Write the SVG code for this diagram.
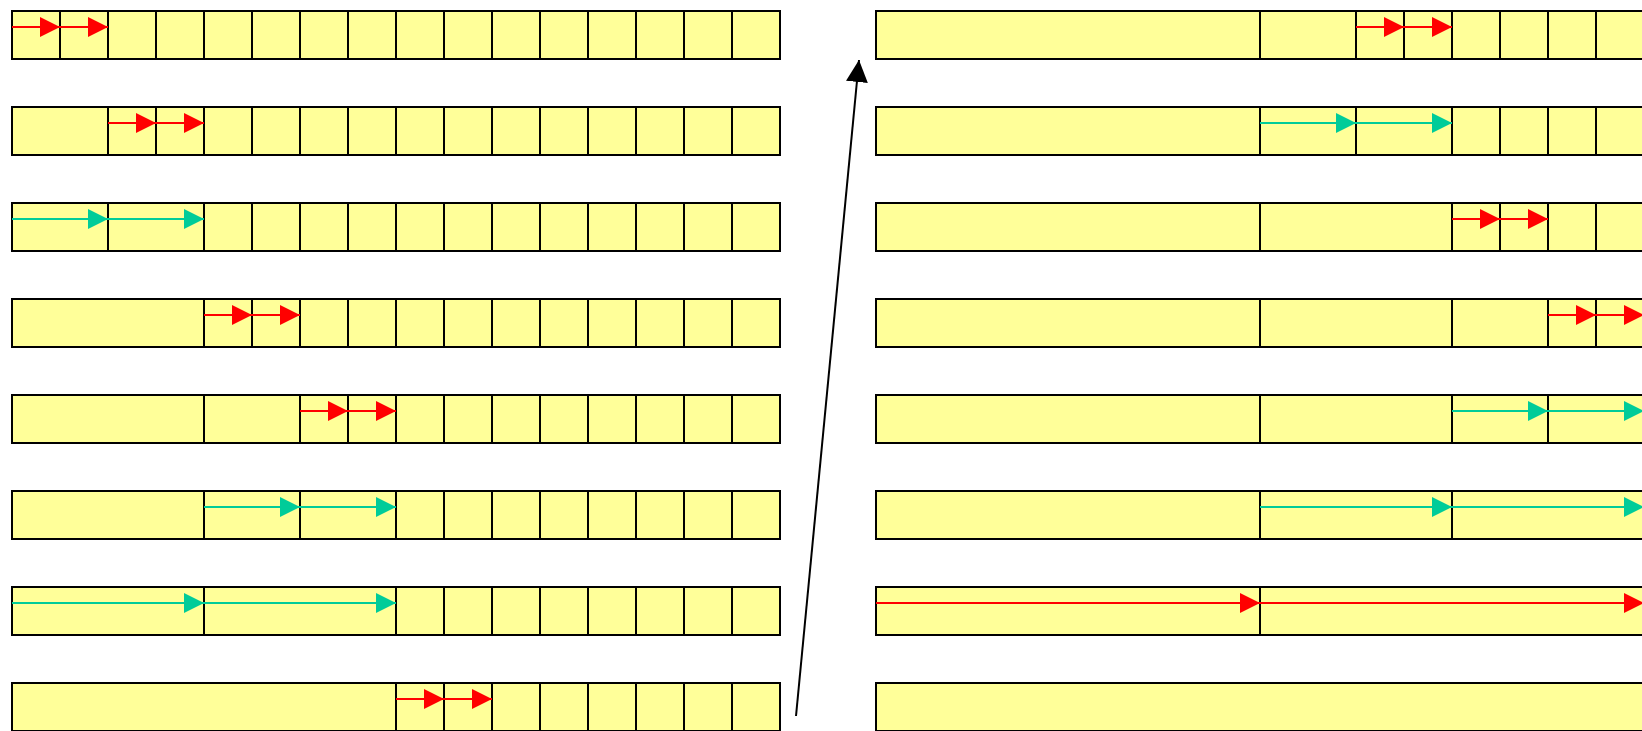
<svg xmlns="http://www.w3.org/2000/svg" width="1642" height="731" viewBox="0 0 1642 731">
<style>
.row{fill:#ffff99;stroke:#000;stroke-width:2}
.div{fill:none;stroke:#000;stroke-width:2}
.r{stroke:#ff0000;stroke-width:2;fill:none;marker-end:url(#ar)}
.g{stroke:#00cc99;stroke-width:2;fill:none;marker-end:url(#ag)}
.k{stroke:#000;stroke-width:2;fill:none;marker-end:url(#ak)}
</style>
<defs>
<marker id="ar" markerUnits="userSpaceOnUse" viewBox="0 0 20 20" refX="20" refY="10" markerWidth="20" markerHeight="20" orient="auto"><path d="M0,0L20,10L0,20z" fill="#ff0000"/></marker>
<marker id="ag" markerUnits="userSpaceOnUse" viewBox="0 0 20 20" refX="20" refY="10" markerWidth="20" markerHeight="20" orient="auto"><path d="M0,0L20,10L0,20z" fill="#00cc99"/></marker>
<marker id="ak" markerUnits="userSpaceOnUse" viewBox="0 0 22 22" refX="22" refY="11" markerWidth="22" markerHeight="22" orient="auto"><path d="M0,0L22,11L0,22z" fill="#000"/></marker>
</defs>
<rect width="1642" height="731" fill="#fff"/>
<g id="L1"><rect class="row" x="12" y="11" width="768" height="48"/><path class="div" d="M60 11v48M108 11v48M156 11v48M204 11v48M252 11v48M300 11v48M348 11v48M396 11v48M444 11v48M492 11v48M540 11v48M588 11v48M636 11v48M684 11v48M732 11v48"/></g>
<g id="L2"><rect class="row" x="12" y="107" width="768" height="48"/><path class="div" d="M108 107v48M156 107v48M204 107v48M252 107v48M300 107v48M348 107v48M396 107v48M444 107v48M492 107v48M540 107v48M588 107v48M636 107v48M684 107v48M732 107v48"/></g>
<g id="L3"><rect class="row" x="12" y="203" width="768" height="48"/><path class="div" d="M108 203v48M204 203v48M252 203v48M300 203v48M348 203v48M396 203v48M444 203v48M492 203v48M540 203v48M588 203v48M636 203v48M684 203v48M732 203v48"/></g>
<g id="L4"><rect class="row" x="12" y="299" width="768" height="48"/><path class="div" d="M204 299v48M252 299v48M300 299v48M348 299v48M396 299v48M444 299v48M492 299v48M540 299v48M588 299v48M636 299v48M684 299v48M732 299v48"/></g>
<g id="L5"><rect class="row" x="12" y="395" width="768" height="48"/><path class="div" d="M204 395v48M300 395v48M348 395v48M396 395v48M444 395v48M492 395v48M540 395v48M588 395v48M636 395v48M684 395v48M732 395v48"/></g>
<g id="L6"><rect class="row" x="12" y="491" width="768" height="48"/><path class="div" d="M204 491v48M300 491v48M396 491v48M444 491v48M492 491v48M540 491v48M588 491v48M636 491v48M684 491v48M732 491v48"/></g>
<g id="L7"><rect class="row" x="12" y="587" width="768" height="48"/><path class="div" d="M204 587v48M396 587v48M444 587v48M492 587v48M540 587v48M588 587v48M636 587v48M684 587v48M732 587v48"/></g>
<g id="L8"><rect class="row" x="12" y="683" width="768" height="48"/><path class="div" d="M396 683v48M444 683v48M492 683v48M540 683v48M588 683v48M636 683v48M684 683v48M732 683v48"/></g>
<g id="R1"><rect class="row" x="876" y="11" width="768" height="48"/><path class="div" d="M1260 11v48M1356 11v48M1404 11v48M1452 11v48M1500 11v48M1548 11v48M1596 11v48"/></g>
<g id="R2"><rect class="row" x="876" y="107" width="768" height="48"/><path class="div" d="M1260 107v48M1356 107v48M1452 107v48M1500 107v48M1548 107v48M1596 107v48"/></g>
<g id="R3"><rect class="row" x="876" y="203" width="768" height="48"/><path class="div" d="M1260 203v48M1452 203v48M1500 203v48M1548 203v48M1596 203v48"/></g>
<g id="R4"><rect class="row" x="876" y="299" width="768" height="48"/><path class="div" d="M1260 299v48M1452 299v48M1548 299v48M1596 299v48"/></g>
<g id="R5"><rect class="row" x="876" y="395" width="768" height="48"/><path class="div" d="M1260 395v48M1452 395v48M1548 395v48"/></g>
<g id="R6"><rect class="row" x="876" y="491" width="768" height="48"/><path class="div" d="M1260 491v48M1452 491v48"/></g>
<g id="R7"><rect class="row" x="876" y="587" width="768" height="48"/><path class="div" d="M1260 587v48"/></g>
<g id="R8"><rect class="row" x="876" y="683" width="768" height="48"/></g>
<g id="connectors">
<path class="r" d="M12 27H60"/><path class="r" d="M60 27H108"/>
<path class="r" d="M108 123H156"/><path class="r" d="M156 123H204"/>
<path class="g" d="M12 219H108"/><path class="g" d="M108 219H204"/>
<path class="r" d="M204 315H252"/><path class="r" d="M252 315H300"/>
<path class="r" d="M300 411H348"/><path class="r" d="M348 411H396"/>
<path class="g" d="M204 507H300"/><path class="g" d="M300 507H396"/>
<path class="g" d="M12 603H204"/><path class="g" d="M204 603H396"/>
<path class="r" d="M396 699H444"/><path class="r" d="M444 699H492"/>
<path class="r" d="M1356 27H1404"/><path class="r" d="M1404 27H1452"/>
<path class="g" d="M1260 123H1356"/><path class="g" d="M1356 123H1452"/>
<path class="r" d="M1452 219H1500"/><path class="r" d="M1500 219H1548"/>
<path class="r" d="M1548 315H1596"/><path class="r" d="M1596 315H1644"/>
<path class="g" d="M1452 411H1548"/><path class="g" d="M1548 411H1644"/>
<path class="g" d="M1260 507H1452"/><path class="g" d="M1452 507H1644"/>
<path class="r" d="M876 603H1260"/><path class="r" d="M1260 603H1644"/>
<path class="k" d="M796 716L859 60"/>
</g>
</svg>
